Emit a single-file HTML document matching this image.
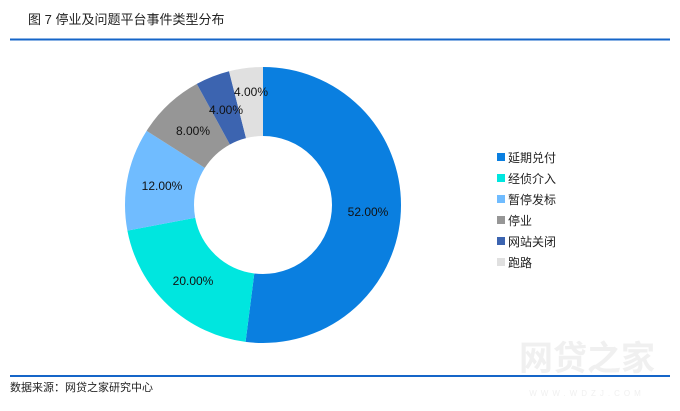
<!DOCTYPE html>
<html><head><meta charset="utf-8"><style>
body{margin:0;background:#fff;}
svg text{font-family:"Liberation Sans","Noto Sans CJK SC",sans-serif;}
</style></head><body>
<svg width="680" height="406" viewBox="0 0 680 406" xmlns="http://www.w3.org/2000/svg">
<rect width="680" height="406" fill="#fff"/>
<text x="28" y="24" font-size="13" fill="#222">图 7  停业及问题平台事件类型分布</text>
<rect x="10" y="38.5" width="660" height="2" fill="#1565C8"/>
<rect x="10" y="375" width="660" height="2" fill="#1565C8"/>
<text x="10" y="391" font-size="11" fill="#222">数据来源：网贷之家研究中心</text>
<text x="587" y="370" font-size="34" font-weight="bold" fill="#f0f0f0" text-anchor="middle">网贷之家</text>
<text x="587" y="396" font-size="8" fill="#f0f0f0" text-anchor="middle" letter-spacing="4">WWW.WDZJ.COM</text>
<g transform="rotate(-90 263 205)" fill="none" stroke-width="69">
<circle cx="263" cy="205" r="103.5" stroke="#0A7FE0" stroke-dasharray="338.16 650.31" stroke-dashoffset="0"/>
<circle cx="263" cy="205" r="103.5" stroke="#00E6DF" stroke-dasharray="130.06 650.31" stroke-dashoffset="-338.16"/>
<circle cx="263" cy="205" r="103.5" stroke="#70BCFF" stroke-dasharray="78.04 650.31" stroke-dashoffset="-468.22"/>
<circle cx="263" cy="205" r="103.5" stroke="#969696" stroke-dasharray="52.02 650.31" stroke-dashoffset="-546.26"/>
<circle cx="263" cy="205" r="103.5" stroke="#3C64B0" stroke-dasharray="26.01 650.31" stroke-dashoffset="-598.28"/>
<circle cx="263" cy="205" r="103.5" stroke="#E0E0E0" stroke-dasharray="26.03 650.31" stroke-dashoffset="-624.29"/>
</g>
<g font-size="12" fill="#111" text-anchor="middle">
<text x="368" y="216">52.00%</text>
<text x="193" y="285">20.00%</text>
<text x="162" y="190">12.00%</text>
<text x="193" y="135">8.00%</text>
<text x="226" y="114">4.00%</text>
<text x="251" y="96">4.00%</text>
</g>
<g font-size="12" fill="#222">
<rect x="497" y="153" width="8" height="8" fill="#0A7FE0"/><text x="508" y="162">延期兑付</text>
<rect x="497" y="174" width="8" height="8" fill="#00E6DF"/><text x="508" y="183">经侦介入</text>
<rect x="497" y="195" width="8" height="8" fill="#70BCFF"/><text x="508" y="204">暂停发标</text>
<rect x="497" y="216" width="8" height="8" fill="#969696"/><text x="508" y="225">停业</text>
<rect x="497" y="237" width="8" height="8" fill="#3C64B0"/><text x="508" y="246">网站关闭</text>
<rect x="497" y="258" width="8" height="8" fill="#E0E0E0"/><text x="508" y="267">跑路</text>
</g>
</svg>
</body></html>
